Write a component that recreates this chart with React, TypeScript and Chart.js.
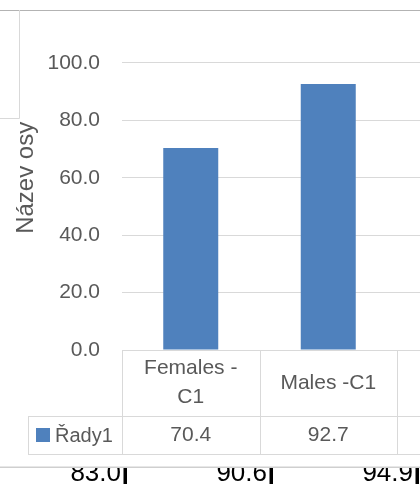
import React, { useEffect, useRef } from "react";
import { Chart, registerables } from "chart.js";

Chart.register(...registerables);

// ---- data ----
const categories = ["Females - C1", "Males -C1", "Females - C2"];
const seriesName = "Řady1";
const seriesValues = [70.4, 92.7, 83.0];
const yTicks = [0, 20, 40, 60, 80, 100, 120];
const axisTitle = "Název osy";
const belowValues = ["83.0", "90.6", "94.9"];

// ---- style ----
const FONT = "'Liberation Sans', Arial, sans-serif";
const TEXT = "#595959";
const BAR = "#4F81BD";
const LINE = "#d9d9d9";
const CANVAS_W = 560;
const CANVAS_H = 484;

function wrap(ctx: CanvasRenderingContext2D, text: string, maxW: number): string[] {
  const words = text.split(" ");
  const lines: string[] = [];
  let cur = "";
  for (const w of words) {
    const test = cur ? cur + " " + w : w;
    if (ctx.measureText(test).width > maxW && cur) {
      lines.push(cur);
      cur = w;
    } else cur = test;
  }
  if (cur) lines.push(cur);
  return lines;
}

const overlayPlugin = {
  id: "overlay",
  afterDraw(chart: any) {
    const ctx: CanvasRenderingContext2D = chart.ctx;
    const area = chart.chartArea;
    const W = chart.width;
    const n = categories.length;
    const cw = (area.right - area.left) / n;
    const top = Math.round(area.bottom);
    const headBottom = top + 66;
    const rowBottom = headBottom + 38;
    const legendLeft = 28;

    ctx.save();
    // data table grid
    ctx.strokeStyle = LINE;
    ctx.lineWidth = 1;
    ctx.beginPath();
    ctx.moveTo(area.left, top + 0.5);
    ctx.lineTo(W, top + 0.5);
    ctx.moveTo(legendLeft, headBottom + 0.5);
    ctx.lineTo(W, headBottom + 0.5);
    ctx.moveTo(legendLeft, rowBottom + 0.5);
    ctx.lineTo(W, rowBottom + 0.5);
    for (let i = 0; i <= n; i++) {
      const x = Math.round(area.left + i * cw) + 0.5;
      ctx.moveTo(x, top);
      ctx.lineTo(x, rowBottom + 1);
    }
    ctx.moveTo(legendLeft + 0.5, headBottom);
    ctx.lineTo(legendLeft + 0.5, rowBottom + 1);
    ctx.stroke();

    // header labels + values
    ctx.fillStyle = TEXT;
    ctx.font = `21px ${FONT}`;
    ctx.textAlign = "center";
    ctx.textBaseline = "middle";
    const xs = chart.scales.x;
    for (let i = 0; i < n; i++) {
      const cx = xs.getPixelForValue(i);
      const lines = wrap(ctx, categories[i], cw - 18);
      const lh = 29;
      const cy = (top + headBottom) / 2;
      lines.forEach((l, k) => {
        ctx.fillText(l, cx, cy + (k - (lines.length - 1) / 2) * lh);
      });
      ctx.fillText(seriesValues[i].toFixed(1), cx, (headBottom + rowBottom) / 2);
    }
    // legend key
    const ry = (headBottom + rowBottom) / 2;
    ctx.fillStyle = BAR;
    ctx.fillRect(36, ry - 7, 14, 14);
    ctx.fillStyle = TEXT;
    ctx.font = `20px ${FONT}`;
    ctx.textAlign = "left";
    ctx.fillText(seriesName, 55, ry + 1);

    // top covering strip
    ctx.fillStyle = "#ffffff";
    ctx.fillRect(0, 0, W, 10);
    ctx.strokeStyle = "#b3b3b3";
    ctx.beginPath();
    ctx.moveTo(0, 10.5);
    ctx.lineTo(W, 10.5);
    ctx.stroke();

    // left box outline
    ctx.strokeStyle = LINE;
    ctx.beginPath();
    ctx.moveTo(19.5, 10);
    ctx.lineTo(19.5, 118.5);
    ctx.lineTo(0, 118.5);
    ctx.stroke();

    // bottom strip (another table, cut off)
    ctx.fillStyle = "#cfcfcf";
    ctx.fillRect(0, 466.5, W, 1.5);
    ctx.beginPath();
    ctx.rect(0, 468, W, CANVAS_H - 468);
    ctx.clip();
    ctx.fillStyle = "#000000";
    ctx.font = `26px ${FONT}`;
    ctx.textAlign = "right";
    ctx.textBaseline = "alphabetic";
    const bx0 = 121;
    const bstep = 146;
    belowValues.forEach((v, i) => {
      const xr = bx0 + i * bstep;
      ctx.fillText(v, xr, 480.5);
      ctx.fillRect(xr + 2.5, 468, 3.5, 16);
    });
    ctx.restore();
  },
};

export default function App() {
  const ref = useRef<HTMLCanvasElement | null>(null);
  useEffect(() => {
    if (!ref.current) return;
    const chart = new Chart(ref.current, {
      type: "bar",
      data: {
        labels: categories,
        datasets: [
          {
            label: seriesName,
            data: seriesValues,
            backgroundColor: BAR,
            barPercentage: 0.4,
            categoryPercentage: 1,
          },
        ],
      },
      options: {
        responsive: false,
        animation: false,
        devicePixelRatio: 1,
        layout: { padding: { top: 5.6, bottom: 134, left: 0, right: 25.5 } },
        plugins: { legend: { display: false }, tooltip: { enabled: false } },
        scales: {
          x: { display: false },
          y: {
            min: yTicks[0],
            max: yTicks[yTicks.length - 1],
            ticks: {
              stepSize: yTicks[1] - yTicks[0],
              callback: (v: any) => Number(v).toFixed(1),
              color: TEXT,
              font: { family: FONT, size: 21 },
              padding: 22,
            },
            grid: { color: LINE, drawTicks: false },
            border: { display: false },
            title: {
              display: true,
              text: axisTitle,
              color: TEXT,
              font: { family: FONT, size: 24 },
              padding: { top: 12, bottom: 0 },
            },
            afterFit: (s: any) => {
              s.width = 122;
              s.paddingTop = 0;
              s.paddingBottom = 0;
            },
          },
        },
      },
      plugins: [overlayPlugin],
    } as any);
    return () => chart.destroy();
  }, []);
  return (
    <div
      style={{
        position: "fixed",
        left: 0,
        top: 0,
        width: 420,
        height: 484,
        overflow: "hidden",
        background: "#fff",
      }}
    >
      <canvas ref={ref} width={CANVAS_W} height={CANVAS_H} style={{ display: "block" }} />
    </div>
  );
}
